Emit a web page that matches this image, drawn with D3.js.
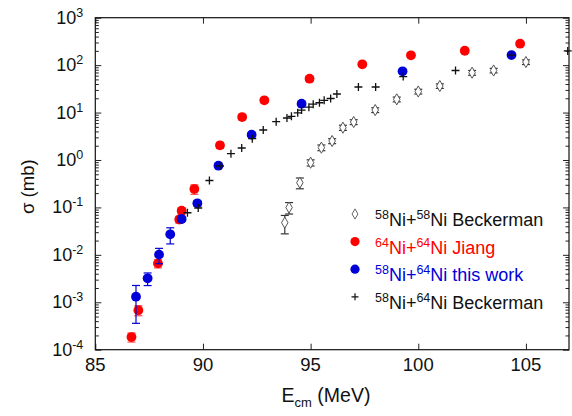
<!DOCTYPE html>
<html>
<head>
<meta charset="utf-8">
<script src="https://cdn.jsdelivr.net/npm/d3@7/dist/d3.min.js"></script>
<style>
  html, body { margin: 0; padding: 0; background: #fff; }
  svg { display: block; font-family: "Liberation Sans", Arial, Helvetica, sans-serif; }
</style>
</head>
<body>
<svg id="chart" width="572" height="416"></svg>
<script>
// 58Ni+58Ni (Beckerman): energy (MeV), cross section (mb), error (mb)
const niNi58E   = [93.8, 94.0, 94.5, 95.0, 95.5, 96.0, 96.5, 97.0, 98.0, 99.0, 100.0, 101.0, 102.5, 103.5, 105.0];
const niNi58S   = [0.0477, 0.0995, 0.332, 0.877, 1.82, 2.51, 4.80, 6.32, 11.3, 19.0, 27.8, 36.3, 69.2, 77.1, 116];
const niNi58Err = [0.020, 0.027, 0.085, 0.13, 0.25, 0.30, 0.60, 0.75, 1.3, 2.2, 3.2, 4.0, 8.0, 8.5, 13];

// 64Ni+64Ni (Jiang)
const ni64E   = [86.68, 87.0, 87.91, 88.90, 89.01, 89.60, 90.79, 91.82, 92.85, 94.95, 97.40, 99.66, 102.16, 104.73];
const ni64S   = [1.85e-4, 6.8e-4, 6.6e-3, 0.0556, 0.085, 0.244, 2.04, 8.05, 18.1, 51.7, 104, 161, 201, 283];
const ni64Err = [0.4e-4, 1.6e-4, 1.3e-3, 0.009, 0.012, 0.055, 0.3, 1.0, 2.0, 6.0, 10, 15, 18, 25];

// 58Ni+64Ni (this work)
const workE   = [86.89, 87.43, 87.96, 88.48, 89.01, 89.74, 90.72, 92.26, 94.58, 99.27, 104.33];
const workS   = [1.31e-3, 3.2e-3, 0.0101, 0.0271, 0.057, 0.122, 0.757, 3.41, 15.4, 74.1, 163];
const workErr = [0.95e-3, 0.95e-3, 0.0036, 0.0101, 0.006, 0.015, 0.06, 0.25, 1.0, 5.0, 10];

// 58Ni+64Ni (Beckerman)
const beckE = [89.28, 89.78, 90.30, 90.79, 91.30, 91.80, 92.29, 92.80, 93.40, 93.90, 94.11, 94.40, 94.58,
               94.92, 95.12, 95.41, 95.63, 95.93, 96.22, 97.22, 98.02, 99.30, 101.73, 104.33, 106.94];
const beckS = [0.0772, 0.0973, 0.369, 0.746, 1.36, 1.79, 2.81, 4.29, 6.41, 7.67, 8.34, 9.88, 11.3,
               13.0, 15.0, 16.1, 18.1, 19.8, 24.6, 34.6, 34.6, 57.5, 77.1, 163, 199];

// Axis ticks
const xTickValues = [85, 90, 95, 100, 105];
const yExponents  = [-4, -3, -2, -1, 0, 1, 2, 3];

const RED = "#ff0000", BLUE = "#0000d8";

const svg = d3.select("#chart");
const plotL = 95.3, plotR = 569, plotT = 17.7, plotB = 349.7;

const x = d3.scaleLinear().domain([85, 107]).range([plotL, plotR]);
const y = d3.scaleLog().domain([1e-4, 1e3]).range([plotB, plotT]);

const majorY = yExponents.map(e => Math.pow(10, e));
const minorY = y.ticks().filter(v => Math.abs(Math.log10(v) - Math.round(Math.log10(v))) > 1e-6);

// Frame and inward ticks
function axisStyle(g) {
  g.select(".domain").remove();
  g.selectAll(".tick line").attr("stroke", "#222").attr("stroke-width", 1);
}
svg.append("g").attr("transform", `translate(0,${plotB})`)
  .call(d3.axisBottom(x).tickValues(xTickValues).tickSize(-6).tickFormat("")).call(axisStyle);
svg.append("g").attr("transform", `translate(0,${plotT})`)
  .call(d3.axisTop(x).tickValues(xTickValues).tickSize(-6).tickFormat("")).call(axisStyle);
svg.append("g").attr("transform", `translate(${plotL},0)`)
  .call(d3.axisLeft(y).tickValues(majorY).tickSize(-6).tickFormat("")).call(axisStyle);
svg.append("g").attr("transform", `translate(${plotL},0)`)
  .call(d3.axisLeft(y).tickValues(minorY).tickSize(-3.5).tickFormat("")).call(axisStyle);
svg.append("g").attr("transform", `translate(${plotR},0)`)
  .call(d3.axisRight(y).tickValues(majorY).tickSize(-6).tickFormat("")).call(axisStyle);
svg.append("g").attr("transform", `translate(${plotR},0)`)
  .call(d3.axisRight(y).tickValues(minorY).tickSize(-3.5).tickFormat("")).call(axisStyle);

svg.append("rect")
  .attr("x", plotL).attr("y", plotT).attr("width", plotR - plotL).attr("height", plotB - plotT)
  .attr("fill", "none").attr("stroke", "#111").attr("stroke-width", 1.2);

// Tick labels
svg.append("g").selectAll("text").data(xTickValues).join("text")
  .attr("x", d => x(d)).attr("y", plotB + 21)
  .attr("text-anchor", "middle").attr("font-size", 18.5).attr("fill", "#111")
  .text(d => d);

const yl = svg.append("g").selectAll("text").data(yExponents).join("text")
  .attr("x", plotL - 12).attr("y", d => y(Math.pow(10, d)) + 6)
  .attr("text-anchor", "end").attr("font-size", 18).attr("fill", "#111");
yl.append("tspan").text("10");
yl.append("tspan").attr("font-size", 12.5).attr("dy", -7).text(d => d < 0 ? "-" + (-d) : d);

// Axis titles
svg.append("text")
  .attr("transform", `translate(34,${(plotT + plotB) / 2 + 3}) rotate(-90)`)
  .attr("text-anchor", "middle").attr("font-size", 18.5).attr("fill", "#111")
  .text("σ (mb)");
const xt = svg.append("text")
  .attr("x", 326).attr("y", 402).attr("text-anchor", "middle")
  .attr("font-size", 19.5).attr("fill", "#111");
xt.append("tspan").text("E");
xt.append("tspan").attr("font-size", 13).attr("dy", 5).text("cm");
xt.append("tspan").attr("dy", -5).text(" (MeV)");

// Error bars with caps
function errorBars(E, S, Err, color, width) {
  const pts = E.map((e, i) => ({ e, s: S[i], err: Err[i] }));
  const g = svg.append("g").attr("stroke", color).attr("stroke-width", width);
  pts.forEach(p => {
    const y1 = y(Math.max(p.s - p.err, 1e-5)), y2 = y(p.s + p.err), cx = x(p.e);
    g.append("line").attr("x1", cx).attr("x2", cx).attr("y1", y1).attr("y2", y2);
    g.append("line").attr("x1", cx - 4).attr("x2", cx + 4).attr("y1", y1).attr("y2", y1);
    g.append("line").attr("x1", cx - 4).attr("x2", cx + 4).attr("y1", y2).attr("y2", y2);
  });
}

const diamond = d3.symbol().type(d3.symbolDiamond).size(36);
const cross = "M-4,0H4M0,-4V4";

// 58Ni+58Ni Beckerman: open diamonds
errorBars(niNi58E, niNi58S, niNi58Err, "#333", 1.2);
svg.append("g").selectAll("path").data(niNi58E).join("path")
  .attr("d", diamond)
  .attr("transform", (d, i) => `translate(${x(d)},${y(niNi58S[i])})`)
  .attr("fill", "#fff").attr("stroke", "#555").attr("stroke-width", 1);

// 64Ni+64Ni Jiang: red dots
errorBars(ni64E, ni64S, ni64Err, "#ff4a4a", 1.2);
svg.append("g").selectAll("circle").data(ni64E).join("circle")
  .attr("cx", d => x(d)).attr("cy", (d, i) => y(ni64S[i])).attr("r", 4.9)
  .attr("fill", RED);

// 58Ni+64Ni this work: blue dots
errorBars(workE, workS, workErr, BLUE, 1.2);
svg.append("g").selectAll("circle").data(workE).join("circle")
  .attr("cx", d => x(d)).attr("cy", (d, i) => y(workS[i])).attr("r", 4.9)
  .attr("fill", BLUE);

// 58Ni+64Ni Beckerman: crosses
svg.append("g").selectAll("path").data(beckE).join("path")
  .attr("d", cross)
  .attr("transform", (d, i) => `translate(${x(d)},${y(beckS[i])})`)
  .attr("stroke", "#111").attr("stroke-width", 1.3).attr("fill", "none");

// Legend
const legendRows = [
  { a: "58", b: "58", rest: "Ni Beckerman", color: "#111", mark: "diamond" },
  { a: "64", b: "64", rest: "Ni Jiang", color: RED, mark: "red" },
  { a: "58", b: "64", rest: "Ni this work", color: BLUE, mark: "blue" },
  { a: "58", b: "64", rest: "Ni Beckerman", color: "#111", mark: "cross" }
];
const lg = svg.append("g");
legendRows.forEach((r, i) => {
  const cy = 214 + i * 27.6;
  if (r.mark === "diamond") {
    lg.append("path").attr("d", d3.symbol().type(d3.symbolDiamond).size(30)())
      .attr("transform", `translate(355,${cy})`).attr("fill", "#fff").attr("stroke", "#666");
  } else if (r.mark === "cross") {
    lg.append("path").attr("d", "M-3.5,0H3.5M0,-3.5V3.5").attr("transform", `translate(355,${cy})`)
      .attr("stroke", "#111").attr("stroke-width", 1.2);
  } else {
    lg.append("circle").attr("cx", 355).attr("cy", cy).attr("r", 4.6)
      .attr("fill", r.mark === "red" ? RED : BLUE);
  }
  const t = lg.append("text").attr("x", 375).attr("y", cy + 12)
    .attr("font-size", 18).attr("fill", r.color);
  t.append("tspan").attr("font-size", 12.5).attr("dy", -7).text(r.a);
  t.append("tspan").attr("dy", 7).text("Ni+");
  t.append("tspan").attr("font-size", 12.5).attr("dy", -7).text(r.b);
  t.append("tspan").attr("dy", 7).text(r.rest);
});
</script>
</body>
</html>
